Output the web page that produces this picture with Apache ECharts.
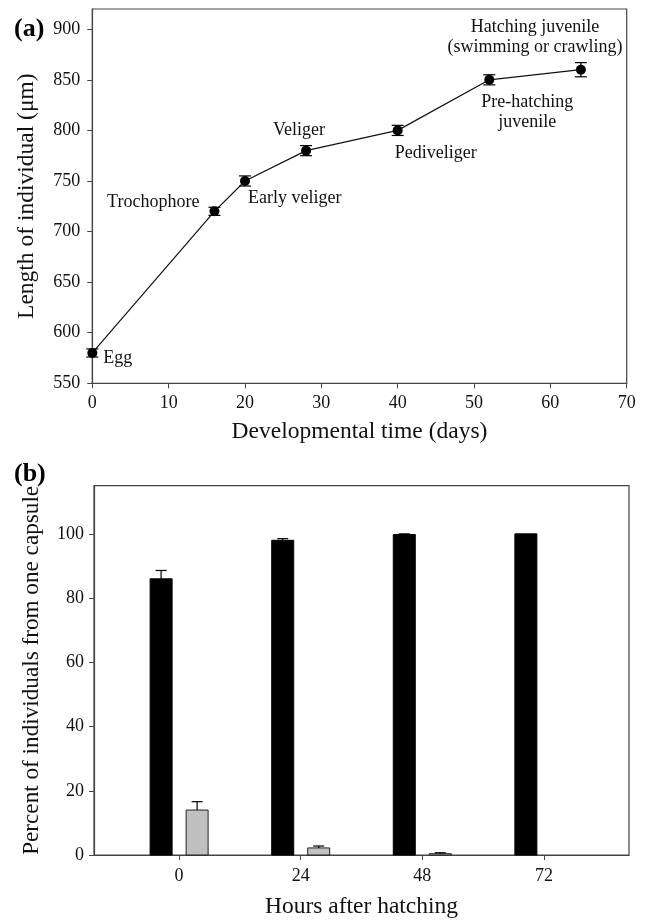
<!DOCTYPE html>
<html><head><meta charset="utf-8">
<script src="https://cdn.jsdelivr.net/npm/echarts@6/dist/echarts.min.js"></script>
<style>html,body{margin:0;padding:0;background:#fff}#c{width:646px;height:920px}</style>
</head><body><div id="c"></div>
<script>
// ---- Panel (a) data ----
const devDays = [0, 16, 20, 28, 40, 52, 64];
const devLength = [580, 720, 750, 780, 800, 850, 860];
const devErr = [4, 4, 5, 5, 5, 5, 7];
const stageNames = ['Egg', 'Trochophore', 'Early veliger', 'Veliger', 'Pediveliger',
  'Pre-hatching\njuvenile', 'Hatching juvenile\n(swimming or crawling)'];
const dayTicks = [0, 10, 20, 30, 40, 50, 60, 70];
const lengthTicks = [550, 600, 650, 700, 750, 800, 850, 900];

// ---- Panel (b) data ----
const hours = [0, 24, 48, 72];
const blackPct = [86, 98, 99.8, 100];
const blackErr = [2.6, 0.5, 0.2, 0];
const grayPct = [14, 2.2, 0.4, 0];
const grayErr = [2.6, 0.6, 0.3, 0];
const hourTicks = [0, 24, 48, 72];
const pctTicks = [0, 20, 40, 60, 80, 100];

// ---- label layout (style only) ----
const stageLabelLayout = [
  { align: 'left', offset: [11, 5] },
  { align: 'right', offset: [-15, -9] },
  { align: 'left', offset: [3, 17] },
  { align: 'center', offset: [-7, -20] },
  { align: 'left', offset: [-3, 23] },
  { align: 'center', offset: [38, 32] },
  { align: 'center', offset: [-46, -32] }
];

const FONT = 'Liberation Serif';
const AX = '#444';

const chart = echarts.init(document.getElementById('c'), null, { renderer: 'canvas' });

function errBarTop(capHalf, both) {
  return function (params, api) {
    const x = api.value(0), y = api.value(1), e = api.value(2);
    const off = api.value(3) || 0;
    if (!e) return null;
    const pHi = api.coord([x, y + e]);
    const pLo = api.coord([x, both ? y - e : y]);
    const cx = pHi[0] + off;
    const children = [
      { type: 'line', shape: { x1: cx, y1: pHi[1], x2: cx, y2: pLo[1] }, style: { stroke: '#000', lineWidth: 1.2 } },
      { type: 'line', shape: { x1: cx - capHalf, y1: pHi[1], x2: cx + capHalf, y2: pHi[1] }, style: { stroke: '#000', lineWidth: 1.2 } }
    ];
    if (both) children.push({ type: 'line', shape: { x1: cx - capHalf, y1: pLo[1], x2: cx + capHalf, y2: pLo[1] }, style: { stroke: '#000', lineWidth: 1.2 } });
    return { type: 'group', children };
  };
}

function barItem(fill, stroke) {
  return function (params, api) {
    const x = api.value(0), v = api.value(1), off = api.value(2);
    if (!v) return null;
    const p0 = api.coord([x, 0]);
    const p1 = api.coord([x, v]);
    const w = 22;
    return {
      type: 'rect',
      shape: { x: p0[0] + off - w / 2, y: p1[1], width: w, height: Math.max(p0[1] - p1[1], 1) },
      style: { fill: fill, stroke: stroke, lineWidth: 1 }
    };
  };
}

const lineData = devDays.map((d, i) => ({
  value: [d, devLength[i]],
  label: {
    show: true,
    formatter: stageNames[i],
    position: 'inside',
    align: stageLabelLayout[i].align,
    verticalAlign: 'middle',
    offset: stageLabelLayout[i].offset,
    color: '#111',
    fontFamily: FONT,
    fontSize: 18,
    lineHeight: 20
  }
}));

const option = {
  backgroundColor: '#fff',
  animation: false,
  title: [
    { text: '(a)', left: 14, top: 16, padding: 0, textStyle: { fontFamily: FONT, fontWeight: 'bold', fontSize: 26, color: '#000' } },
    { text: '(b)', left: 14, top: 461, padding: 0, textStyle: { fontFamily: FONT, fontWeight: 'bold', fontSize: 26, color: '#000' } }
  ],
  grid: [
    { left: 92.3, top: 9, width: 534.4, height: 374.3, show: true, borderColor: AX, borderWidth: 1.2, backgroundColor: 'transparent' },
    { left: 94, top: 485.7, width: 535, height: 374.3, show: true, borderColor: AX, borderWidth: 1.2, backgroundColor: 'transparent' }
  ],
  xAxis: [
    {
      gridIndex: 0, type: 'value', min: 0, max: 70, interval: 10,
      name: 'Developmental time (days)', nameLocation: 'middle', nameGap: 37,
      nameTextStyle: { fontFamily: FONT, fontSize: 23.5, color: '#111' },
      axisLine: { show: true, onZero: false, lineStyle: { color: AX, width: 1.2 } },
      axisTick: { show: true, inside: false, length: 5, lineStyle: { color: AX }, customValues: dayTicks },
      axisLabel: { margin: 11, fontFamily: FONT, fontSize: 18, color: '#111', customValues: dayTicks },
      splitLine: { show: false }
    },
    {
      gridIndex: 1, type: 'value', min: -16.8, max: 88.8,
      name: 'Hours after hatching', nameLocation: 'middle', nameGap: 40,
      nameTextStyle: { fontFamily: FONT, fontSize: 23.5, color: '#111' },
      axisLine: { show: true, onZero: false, lineStyle: { color: AX, width: 1.2 } },
      axisTick: { show: true, length: 5, lineStyle: { color: AX }, customValues: hourTicks },
      axisLabel: { margin: 12, fontFamily: FONT, fontSize: 18, color: '#111', customValues: hourTicks },
      splitLine: { show: false }
    }
  ],
  yAxis: [
    {
      gridIndex: 0, type: 'value', min: 550, max: 920, interval: 50,
      name: 'Length of individual (\u03bcm)', nameLocation: 'middle', nameGap: 53,
      nameTextStyle: { fontFamily: FONT, fontSize: 23.5, color: '#111' },
      axisLine: { show: true, onZero: false, lineStyle: { color: AX, width: 1.2 } },
      axisTick: { show: true, length: 5, lineStyle: { color: AX }, customValues: lengthTicks },
      axisLabel: { margin: 12, fontFamily: FONT, fontSize: 18, color: '#111', customValues: lengthTicks },
      splitLine: { show: false }
    },
    {
      gridIndex: 1, type: 'value', min: 0, max: 115,
      name: 'Percent of individuals from one capsule', nameLocation: 'middle', nameGap: 51,
      nameTextStyle: { fontFamily: FONT, fontSize: 23.2, color: '#111' },
      axisLine: { show: true, onZero: false, lineStyle: { color: AX, width: 1.2 } },
      axisTick: { show: true, length: 5, lineStyle: { color: AX }, customValues: pctTicks },
      axisLabel: { margin: 10, fontFamily: FONT, fontSize: 18, color: '#111', customValues: pctTicks },
      splitLine: { show: false }
    }
  ],
  series: [
    {
      type: 'custom', xAxisIndex: 0, yAxisIndex: 0, z: 2,
      renderItem: errBarTop(6, true),
      data: devDays.map((d, i) => [d, devLength[i], devErr[i], 0])
    },
    {
      type: 'line', xAxisIndex: 0, yAxisIndex: 0, z: 3,
      data: lineData,
      symbol: 'circle', symbolSize: 10,
      itemStyle: { color: '#000' },
      lineStyle: { color: '#111', width: 1.2 }
    },
    {
      type: 'custom', xAxisIndex: 1, yAxisIndex: 1, z: 2,
      renderItem: barItem('#000', '#000'),
      data: hours.map((h, i) => [h, blackPct[i], -18])
    },
    {
      type: 'custom', xAxisIndex: 1, yAxisIndex: 1, z: 2,
      renderItem: barItem('#c0c0c0', '#222'),
      data: hours.map((h, i) => [h, grayPct[i], 18])
    },
    {
      type: 'custom', xAxisIndex: 1, yAxisIndex: 1, z: 3,
      renderItem: errBarTop(5.5, false),
      data: hours.map((h, i) => [h, blackPct[i], blackErr[i], -18])
    },
    {
      type: 'custom', xAxisIndex: 1, yAxisIndex: 1, z: 3,
      renderItem: errBarTop(5.5, false),
      data: hours.map((h, i) => [h, grayPct[i], grayErr[i], 18])
    }
  ]
};
chart.setOption(option);
</script>
</body></html>
